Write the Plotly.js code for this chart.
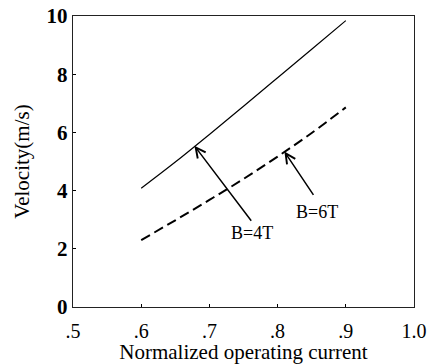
<!DOCTYPE html>
<html>
<head>
<meta charset="utf-8">
<script src="https://cdn.plot.ly/plotly-3.0.1.min.js"></script>
<style>html,body{margin:0;padding:0;background:#fff;}#chart{width:432px;height:364px;}</style>
</head>
<body>
<div id="chart"></div>
<script>
const current4T = [0.6, 0.65, 0.7, 0.75, 0.8, 0.85, 0.9];
const velocity4T = [4.08, 4.98, 5.93, 6.9, 7.88, 8.86, 9.84];
const current6T = [0.6, 0.65, 0.7, 0.75, 0.8, 0.85, 0.9];
const velocity6T = [2.3, 2.98, 3.68, 4.4, 5.17, 5.98, 6.86];
const xTickVals = [0.5, 0.6, 0.7, 0.8, 0.9, 1.0];
const xTickText = ['.5', '.6', '.7', '.8', '.9', '1.0'];
const yTickVals = [0, 2, 4, 6, 8, 10];
const labels = ['B=4T', 'B=6T'];

const serif = 'Liberation Serif, Times New Roman, serif';

const traces = [
  {x: current4T, y: velocity4T, mode: 'lines', line: {color: '#000', width: 1.2, shape: 'spline'}, hoverinfo: 'skip'},
  {x: current6T, y: velocity6T, mode: 'lines', line: {color: '#000', width: 2, dash: '10px,5px', shape: 'spline'}, hoverinfo: 'skip'}
];

const layout = {
  width: 432, height: 364,
  margin: {l: 73, r: 18, t: 16, b: 57},
  paper_bgcolor: '#fff', plot_bgcolor: '#fff',
  showlegend: false,
  xaxis: {
    range: [0.5, 1.0], tickvals: xTickVals, ticktext: xTickText,
    ticks: 'inside', ticklen: 3, tickcolor: '#000', showgrid: false, zeroline: false,
    showline: true, linecolor: '#222', linewidth: 1.2, mirror: true,
    ticklabelstandoff: 6,
    tickfont: {family: serif, size: 20, color: '#000'},
    title: {text: 'Normalized operating current', font: {family: serif, size: 21, color: '#000'}, standoff: 0}
  },
  yaxis: {
    range: [0, 10], tickvals: yTickVals,
    ticks: 'inside', ticklen: 3, tickcolor: '#000', showgrid: false, zeroline: false,
    showline: true, linecolor: '#222', linewidth: 1.2, mirror: true,
    tickfont: {family: serif, size: 21, color: '#000', weight: 'bold'},
    title: {text: 'Velocity(m/s)', font: {family: serif, size: 21, color: '#000'}, standoff: 11}
  },
  annotations: [
    {x: 0.678, y: 5.54, ax: 0.763, ay: 2.91, axref: 'x', ayref: 'y', xref: 'x', yref: 'y',
     showarrow: true, arrowhead: 5, arrowsize: 1.3, arrowwidth: 1.5, arrowcolor: '#000', text: ''},
    {x: 0.762, y: 2.55, xref: 'x', yref: 'y', text: labels[0], showarrow: false,
     font: {family: serif, size: 18, color: '#000'}},
    {x: 0.81, y: 5.34, ax: 0.854, ay: 3.8, axref: 'x', ayref: 'y', xref: 'x', yref: 'y',
     showarrow: true, arrowhead: 5, arrowsize: 1.3, arrowwidth: 1.5, arrowcolor: '#000', text: ''},
    {x: 0.858, y: 3.27, xref: 'x', yref: 'y', text: labels[1], showarrow: false,
     font: {family: serif, size: 18, color: '#000'}}
  ]
};

Plotly.newPlot('chart', traces, layout, {staticPlot: true, displayModeBar: false});
</script>
</body>
</html>
